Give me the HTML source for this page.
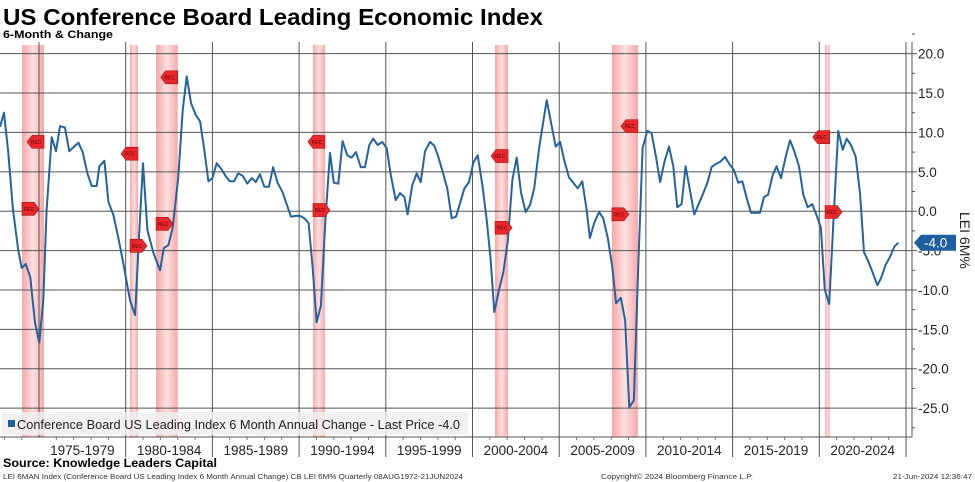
<!DOCTYPE html>
<html><head><meta charset="utf-8"><style>
body{margin:0;background:#fff;width:975px;height:482px;overflow:hidden;font-family:"Liberation Sans",sans-serif;}
svg{display:block}
</style></head><body>
<svg width="975" height="482" viewBox="0 0 975 482">
<text x="3" y="25" font-size="23" font-weight="bold" fill="#000" textLength="540" lengthAdjust="spacingAndGlyphs">US Conference Board Leading Economic Index</text>
<text x="3" y="38" font-size="11" font-weight="bold" fill="#000" textLength="110" lengthAdjust="spacingAndGlyphs">6-Month &amp; Change</text>
<defs><linearGradient id="band" x1="0" x2="1" y1="0" y2="0"><stop offset="0" stop-color="#f7a8a8"/><stop offset="0.5" stop-color="#fde0e0"/><stop offset="1" stop-color="#f7a8a8"/></linearGradient></defs>
<g id="bands"></g>
<g id="grid"></g>
<g id="series"></g>
<g id="flags"></g>
<g id="axis"></g>
<rect x="2" y="412" width="466" height="23" fill="#eeeeee" fill-opacity="0.85"/>
<rect x="8" y="420" width="7" height="7" fill="#1f5f9f"/>
<text x="17" y="429" font-size="13" fill="#222" textLength="443" lengthAdjust="spacingAndGlyphs">Conference Board US Leading Index 6 Month Annual Change - Last Price -4.0</text>
<text x="3" y="467" font-size="12" font-weight="bold" fill="#000" textLength="214" lengthAdjust="spacingAndGlyphs">Source: Knowledge Leaders Capital</text>
<text x="3" y="479" font-size="7" fill="#333" textLength="460" lengthAdjust="spacingAndGlyphs">LEI 6MAN Index (Conference Board US Leading Index 6 Month Annual Change) CB LEI 6M%  Quarterly 08AUG1972-21JUN2024</text>
<text x="601" y="479" font-size="7" fill="#333" textLength="152" lengthAdjust="spacingAndGlyphs">Copyright© 2024 Bloomberg Finance L.P.</text>
<text x="893" y="479" font-size="7" fill="#333" textLength="79" lengthAdjust="spacingAndGlyphs">21-Jun-2024 12:36:47</text>
</svg>
<script>
const years=[1972.75,1972.98,1973.23,1973.5,1973.8,1974.0,1974.24,1974.5,1974.77,1975.02,1975.25,1975.44,1975.73,1975.98,1976.21,1976.5,1976.75,1976.98,1977.27,1977.52,1977.79,1978.04,1978.33,1978.48,1978.77,1979.0,1979.29,1979.57,1979.86,1980.25,1980.54,1980.78,1981.0,1981.25,1981.6,1981.98,1982.2,1982.46,1982.71,1983.03,1983.29,1983.52,1983.77,1984.04,1984.29,1984.53,1984.77,1985.0,1985.25,1985.5,1985.78,1986.0,1986.25,1986.49,1986.75,1987.01,1987.27,1987.5,1987.74,1988.0,1988.26,1988.5,1988.76,1989.05,1989.28,1989.53,1989.8,1990.05,1990.3,1990.55,1990.78,1991.01,1991.26,1991.53,1991.78,1992.0,1992.26,1992.51,1992.78,1993.03,1993.28,1993.55,1993.8,1994.05,1994.28,1994.53,1994.8,1995.05,1995.29,1995.57,1995.82,1996.07,1996.26,1996.53,1996.78,1997.01,1997.26,1997.55,1997.8,1998.03,1998.28,1998.55,1998.8,1999.05,1999.28,1999.53,1999.8,2000.05,2000.3,2000.57,2000.82,2001.05,2001.26,2001.53,2001.78,2002.03,2002.3,2002.55,2002.8,2003.07,2003.32,2003.56,2003.84,2004.05,2004.28,2004.53,2004.8,2005.05,2005.29,2005.56,2005.81,2006.07,2006.33,2006.58,2006.77,2007.02,2007.3,2007.54,2007.8,2008.06,2008.28,2008.55,2008.8,2009.04,2009.31,2009.56,2009.81,2010.08,2010.33,2010.58,2010.82,2011.06,2011.33,2011.58,2011.81,2012.06,2012.29,2012.54,2012.79,2013.06,2013.31,2013.56,2013.79,2014.04,2014.31,2014.56,2014.81,2015.08,2015.33,2015.56,2015.81,2016.06,2016.33,2016.58,2016.81,2017.05,2017.31,2017.54,2017.79,2018.06,2018.31,2018.56,2018.83,2019.08,2019.33,2019.59,2019.84,2020.09,2020.32,2020.57,2020.84,2021.09,2021.35,2021.58,2021.83,2022.1,2022.35,2022.58,2022.83,2023.08,2023.35,2023.56,2023.83,2024.08,2024.33,2024.56];
const values=[10.7,12.5,7.4,0.15,-4.9,-7.2,-6.7,-8.4,-14.2,-16.7,-11.3,0.15,9.4,7.6,10.8,10.6,7.6,8.1,8.7,7.5,4.8,3.2,3.2,5.7,6.4,1.2,-0.5,-3.3,-6.6,-11.3,-13.2,-2.8,6.1,-2.4,-5.3,-7.5,-4.7,-4.3,-2.1,4.2,12.8,17.1,13.7,12.2,11.4,7.8,3.8,4.2,6.1,5.4,4.4,3.8,3.8,4.8,4.5,3.5,4.2,3.7,4.7,3.1,3.1,5.6,3.6,2.4,0.9,-0.7,-0.6,-0.6,-0.9,-1.5,-7.1,-14.1,-12.0,-0.7,7.4,3.6,3.5,8.9,7.1,6.8,7.5,5.6,5.6,8.4,9.2,8.4,8.8,8.0,4.6,1.4,2.3,1.8,-0.4,3.3,4.8,3.7,7.6,8.8,8.3,6.9,5.0,2.8,-0.9,-0.7,1.0,2.9,3.7,6.2,7.1,3.3,-1.1,-6.2,-12.8,-10.0,-7.7,-3.9,4.0,6.8,2.3,-0.1,0.8,2.9,8.0,10.9,14.1,11.2,8.2,8.8,6.5,4.3,3.6,2.9,3.8,0.2,-3.4,-1.5,-0.1,-0.9,-3.4,-7.1,-11.7,-11.0,-13.8,-24.9,-24.0,-6.8,8.0,10.2,9.9,6.9,3.7,6.2,8.2,5.7,0.5,0.9,5.7,2.7,-0.4,1.0,2.3,3.7,5.6,6.0,6.3,6.9,6.0,5.2,3.6,3.8,1.7,-0.2,-0.2,-0.2,1.8,2.1,4.6,5.7,4.2,6.9,9.0,7.6,5.7,2.1,0.5,0.9,-0.5,-2.1,-10.0,-11.8,-0.1,10.2,7.8,9.2,8.4,6.9,2.3,-5.2,-6.4,-7.8,-9.4,-8.5,-6.8,-5.8,-4.5,-4.0];
const yTicks=[20,15,10,5,0,-5,-10,-15,-20,-25];
const periodLabels=["1975-1979","1980-1984","1985-1989","1990-1994","1995-1999","2000-2004","2005-2009","2010-2014","2015-2019","2020-2024"];
const recStart=[1974.02,1980.25,1981.75,1990.8,2001.3,2008.04,2020.33];
const recEnd=[1975.29,1980.71,1983.0,1991.49,2002.05,2009.54,2020.6];
const flagStartVals=[0.3,-4.4,-1.6,0.15,-2.1,-0.4,-0.1];
const flagEndVals=[8.8,7.3,17.0,8.8,7.0,10.8,9.4];
const lastValue=-4.0;

const NS="http://www.w3.org/2000/svg";
const X=y=>39+(y-1975)*17.34;
const Y=v=>211.2-v*7.877;
const TOP=42,BOT=437,RIGHT=912;
function mk(tag,attrs,parent){const e=document.createElementNS(NS,tag);for(const k in attrs)e.setAttribute(k,attrs[k]);parent.appendChild(e);return e;}
const gB=document.getElementById('bands'),gG=document.getElementById('grid'),gS=document.getElementById('series'),gF=document.getElementById('flags'),gA=document.getElementById('axis');

recStart.forEach((s,i)=>{
  const r=mk('rect',{x:X(s),y:TOP+3,width:X(recEnd[i])-X(s),height:BOT-TOP-3,fill:'url(#band)'},gB);
  
  
});
yTicks.forEach(t=>{
  const l=mk('line',{x1:0,x2:RIGHT,y1:Y(t),y2:Y(t),stroke:'#555','stroke-width':1},gG);
  
  
});
for(let yr=1975;yr<=2025;yr+=5){
  const l=mk('line',{x1:X(yr),x2:X(yr),y1:TOP,y2:BOT,stroke:'#555','stroke-width':1},gG);
  
  
}
const bl=mk('line',{x1:0,x2:RIGHT,y1:BOT,y2:BOT,stroke:'#555','stroke-width':1},gG);



const pts=years.map((y,i)=>X(y).toFixed(1)+','+Y(values[i]).toFixed(1)).join(' ');
const pl=mk('polyline',{points:pts,fill:'none',stroke:'#2563a0','stroke-width':2,'stroke-linejoin':'round'},gS);



function flag(x,v,dir){
  const y=Y(v),h=13;let poly;
  if(dir>0){poly=[[x,y-h/2],[x+12,y-h/2],[x+17,y],[x+12,y+h/2],[x,y+h/2]];}
  else{poly=[[x,y-h/2],[x-12,y-h/2],[x-17,y],[x-12,y+h/2],[x,y+h/2]];}
  const p=mk('polygon',{points:poly.map(q=>q.join(',')).join(' '),fill:'#e8282a',stroke:'#a01010','stroke-width':0.6},gF);
  
  
  const t=mk('text',{x:dir>0?x+7:x-8,y:y+2,'font-size':5,'text-anchor':'middle',fill:'#600'},gF);
  t.textContent='REC';
  
  
}
recStart.forEach((s,i)=>flag(X(s),flagStartVals[i],1));
recEnd.forEach((e,i)=>flag(X(e),flagEndVals[i],-1));

const al=mk('line',{x1:RIGHT,x2:RIGHT,y1:TOP,y2:BOT,stroke:'#555','stroke-width':1},gA);


yTicks.forEach(t=>{
  mk('line',{x1:RIGHT,x2:RIGHT+5,y1:Y(t),y2:Y(t),stroke:'#555'},gA);
  mk('line',{x1:RIGHT,x2:RIGHT+3,y1:Y(t-2.5),y2:Y(t-2.5),stroke:'#555'},gA);
  const tx=mk('text',{x:RIGHT+6,y:Y(t)+5,'font-size':13.5,fill:'#222'},gA);
  tx.textContent=(t<0?'-':'')+Math.abs(t).toFixed(1);
  
  
});
mk('line',{x1:RIGHT,x2:RIGHT+3,y1:Y(22.5),y2:Y(22.5),stroke:'#555'},gA);
const yt=mk('text',{x:0,y:0,'font-size':14,fill:'#222',transform:'translate(960,212) rotate(90)'},gA);
yt.textContent='LEI 6M%';


const ly=Y(lastValue);
const tag=mk('polygon',{points:`${RIGHT+2},${ly} ${RIGHT+9},${ly-8} ${RIGHT+44},${ly-8} ${RIGHT+44},${ly+8} ${RIGHT+9},${ly+8}`,fill:'#1f5f9f'},gA);


const tt=mk('text',{x:RIGHT+12,y:ly+5,'font-size':13.5,fill:'#fff'},gA);
tt.textContent=lastValue.toFixed(1);



periodLabels.forEach((lab,i)=>{
  const x0=X(1975+5*i);
  const tx=mk('text',{x:x0+43.4,y:455,'font-size':13.5,'text-anchor':'middle',fill:'#222'},gA);
  tx.textContent=lab;
  
  
});
for(let yr=1980;yr<=2025;yr+=5){mk('line',{x1:X(yr),x2:X(yr),y1:BOT,y2:BOT+20,stroke:'#555'},gA);}
for(let yr=1973;yr<=2024;yr++){if(yr%5)mk('line',{x1:X(yr),x2:X(yr),y1:BOT,y2:BOT+3,stroke:'#777'},gA);}
</script>
</body></html>
